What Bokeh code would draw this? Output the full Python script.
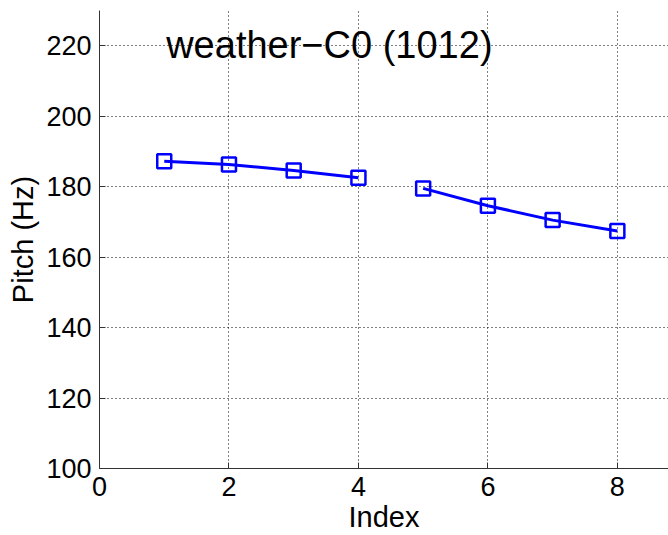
from bokeh.plotting import figure
from bokeh.embed import file_html
from bokeh.resources import INLINE
from bokeh.core.properties import value
from bokeh.models import FixedTicker
import numpy as np

index = [1, 2, 3, 4, 5, 6, 7, 8]
pitch = [187.2, 186.3, 184.6, 182.5, 179.5, 174.6, 170.5, 167.4]
segment_a = [0, 1, 2, 3]
segment_b = [4, 5, 6, 7]
x_ticks = [0, 2, 4, 6, 8]
y_ticks = [100, 120, 140, 160, 180, 200, 220]
title_text = "weather\u2212C0 (1012)"

FONT = "Liberation Sans"

p = figure(width=668, height=535, x_range=(0, 8.79), y_range=(100, 230),
           output_backend="svg", toolbar_location=None,
           min_border_left=99, min_border_right=0, min_border_top=10, min_border_bottom=65)
p.outline_line_color = None
p.background_fill_color = "white"
p.border_fill_color = "white"

for seg in (segment_a, segment_b):
    xs = [index[i] for i in seg]
    ys = [pitch[i] for i in seg]
    p.line(xs, ys, line_color="#0000ff", line_width=3)
    p.scatter(xs, ys, marker="square", size=14, fill_color=None,
              line_color="#0000ff", line_width=2.5)

p.text(x=[1.03], y=[220.2], text=[title_text], text_font=value(FONT),
       text_font_size="38px", text_align="left", text_baseline="alphabetic",
       text_color="black")

p.xaxis.ticker = FixedTicker(ticks=x_ticks)
p.yaxis.ticker = FixedTicker(ticks=y_ticks)
for ax in (p.xaxis, p.yaxis):
    ax.major_label_text_font = FONT
    ax.major_label_text_font_size = "27px"
    ax.major_label_text_color = "black"
    ax.axis_label_text_font = FONT
    ax.axis_label_text_font_size = "29px"
    ax.axis_label_text_font_style = "normal"
    ax.axis_label_text_color = "black"
    ax.axis_line_color = "#333333"
    ax.axis_line_width = 1
    ax.major_tick_in = 6
    ax.major_tick_out = 0
    ax.major_tick_line_color = "#333333"
    ax.minor_tick_line_color = None
p.xaxis.axis_label = "Index"
p.yaxis.axis_label = "Pitch (Hz)"
p.xaxis.major_label_standoff = 8
p.yaxis.major_label_standoff = 8
p.xaxis.axis_label_standoff = 2
p.yaxis.axis_label_standoff = 4

p.grid.grid_line_color = "black"
p.grid.grid_line_dash = "1 3"
p.grid.grid_line_width = 1

open("out.html", "w").write(file_html(p, INLINE))
